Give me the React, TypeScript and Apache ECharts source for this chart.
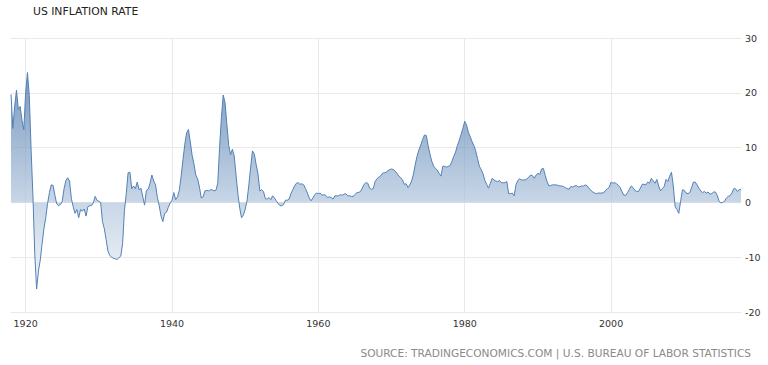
import React, { useEffect, useRef } from "react";
import * as echarts from "echarts";

// Quarterly US CPI inflation (YoY %)
const values1910s = [19.7, 13.5, 17.5, 20.5, 17.0, 17.5, 15.0, 13.3];
const values1920s = [20.0, 23.7, 19.5, 9.5, 1.0, -9.5, -15.8, -12.5, -10.5, -7.5, -4.8, -2.8, -0.2, 1.8, 3.2, 3.1, 1.3, -0.3, -0.6, -0.4, 0.2, 2.5, 4.0, 4.5, 3.9, 0.7, -0.8, -2.0, -1.3, -2.8, -1.3, -1.6, -1.2, -2.5, -0.8, -0.6, -0.6, -0.1, 1.1, 0.4];
const values1930s = [0.2, 0.0, -3.5, -4.8, -6.8, -8.9, -9.7, -10.0, -10.2, -10.3, -10.4, -10.1, -9.8, -7.5, -1.5, 1.6, 5.4, 5.5, 2.5, 3.0, 2.5, 3.7, 2.3, 2.6, 1.1, -0.5, 2.2, 2.4, 3.5, 5.0, 3.9, 3.2, 0.9, -0.6, -2.5, -3.5, -2.0, -1.8, -0.9, -0.1];
const values1940s = [0.4, 1.8, 0.5, 1.0, 2.2, 4.8, 7.8, 10.6, 12.7, 13.3, 11.0, 8.6, 7.0, 5.0, 4.3, 2.8, 0.8, 1.0, 2.1, 2.2, 2.1, 2.3, 2.3, 2.1, 2.2, 3.5, 10.0, 15.5, 19.6, 18.2, 14.2, 10.4, 8.7, 9.7, 8.5, 5.0, 1.6, -1.0, -2.8, -2.3];
const values1950s = [-1.3, 0.3, 3.2, 6.5, 9.4, 8.8, 6.9, 5.2, 2.1, 2.3, 2.0, 0.7, 0.6, 0.9, 0.5, 1.2, 0.8, 0.3, -0.2, -0.6, -0.6, -0.4, 0.4, 0.4, 0.6, 1.6, 2.3, 3.0, 3.5, 3.6, 3.3, 3.4, 3.2, 2.5, 1.7, 0.8, 0.3, 0.8, 1.4, 1.7];
const values1960s = [1.6, 1.7, 1.3, 1.4, 1.3, 0.9, 1.0, 0.9, 0.6, 1.2, 1.2, 1.2, 1.4, 1.3, 1.5, 1.6, 1.2, 1.2, 1.1, 1.1, 1.4, 1.8, 1.8, 2.0, 2.6, 3.3, 3.6, 3.5, 2.6, 2.4, 2.5, 3.8, 4.3, 4.6, 4.8, 5.3, 5.4, 5.5, 5.8, 6.0];
const values1970s = [6.1, 6.0, 5.7, 5.3, 4.8, 4.5, 4.1, 3.3, 3.4, 2.7, 3.2, 3.9, 5.2, 7.0, 8.5, 9.6, 10.5, 11.5, 12.3, 12.2, 10.3, 8.8, 7.5, 6.6, 6.2, 5.9, 5.3, 4.8, 6.6, 6.6, 6.4, 6.6, 6.7, 7.5, 8.4, 9.2, 10.4, 11.3, 12.4, 13.5];
const values1980s = [14.8, 14.1, 12.8, 12.0, 11.1, 10.4, 9.4, 8.0, 6.6, 6.0, 5.2, 4.0, 3.3, 2.6, 3.5, 4.4, 4.1, 3.9, 3.8, 4.0, 3.6, 3.6, 3.6, 3.8, 1.6, 1.6, 1.7, 1.2, 3.2, 4.0, 4.3, 4.1, 4.1, 4.1, 4.3, 4.6, 5.0, 4.9, 4.4, 5.0];
const values1990s = [5.3, 5.1, 6.1, 6.2, 4.9, 3.8, 3.0, 3.1, 3.2, 3.2, 3.2, 3.1, 3.0, 3.0, 2.9, 2.7, 2.5, 2.4, 2.9, 2.8, 3.0, 3.1, 2.8, 2.9, 3.0, 3.0, 3.2, 3.0, 2.5, 2.2, 1.9, 1.7, 1.6, 1.7, 1.7, 1.7, 1.8, 2.2, 2.5, 2.8];
const values2000s = [3.7, 3.5, 3.6, 3.4, 3.1, 2.7, 1.9, 1.3, 1.3, 1.8, 2.4, 3.0, 2.7, 2.2, 2.0, 2.0, 2.6, 3.3, 3.3, 3.2, 3.7, 3.5, 4.4, 3.9, 3.5, 4.2, 3.0, 2.1, 2.5, 2.9, 4.2, 3.8, 4.8, 5.5, 3.0, -0.8, -1.3, -2.0, 0.2, 2.3];
const values2010s = [2.2, 1.7, 1.6, 1.8, 2.7, 3.7, 3.7, 3.2, 2.6, 2.1, 1.8, 2.0, 1.7, 1.9, 1.5, 1.6, 1.9, 1.9, 1.3, 0.2, -0.1, 0.0, 0.2, 0.8, 1.1, 1.2, 1.7, 2.5, 2.5, 2.0, 2.3, 2.4];

const firstYear = 1918;
const xTickLabels = ["1920", "1940", "1960", "1980", "2000"];
const yTickLabels = [-20, -10, 0, 10, 20, 30];

const TITLE = "US INFLATION RATE";
const SOURCE = "SOURCE: TRADINGECONOMICS.COM | U.S. BUREAU OF LABOR STATISTICS";

export default function App() {
  const ref = useRef<HTMLDivElement>(null);

  useEffect(() => {
    if (!ref.current) return;
    const chart = echarts.init(ref.current, null, { renderer: "svg" });

    const values = [
      ...values1910s, ...values1920s, ...values1930s, ...values1940s, ...values1950s,
      ...values1960s, ...values1970s, ...values1980s, ...values1990s, ...values2000s, ...values2010s,
    ];
    const categories = values.map((_, i) => `${firstYear + Math.floor(i / 4)}-Q${(i % 4) + 1}`);
    const isTick = (_idx: number, val: string) =>
      val.endsWith("Q1") && xTickLabels.includes(val.slice(0, 4));

    chart.setOption({
      animation: false,
      backgroundColor: "#ffffff",
      title: [
        {
          text: TITLE,
          left: 33,
          top: 6,
          padding: 0,
          textStyle: { fontFamily: "DejaVu Sans", fontSize: 10.8, fontWeight: "normal", color: "#222222" },
        },
        {
          text: SOURCE,
          right: 17,
          top: 347,
          padding: 0,
          textStyle: { fontFamily: "DejaVu Sans", fontSize: 10.6, fontWeight: "normal", color: "#8a8a8a" },
        },
      ],
      grid: { left: 11, right: 27, top: 38, bottom: 53, containLabel: false },
      xAxis: {
        type: "category",
        data: categories,
        boundaryGap: false,
        axisLine: { show: false },
        axisTick: { show: false },
        axisLabel: {
          interval: isTick,
          formatter: (v: string) => v.slice(0, 4),
          fontFamily: "DejaVu Sans",
          fontSize: 9.5,
          color: "#333333",
          margin: 6,
        },
        splitLine: { show: true, interval: isTick, lineStyle: { color: "#e9e9e9", width: 1 } },
      },
      yAxis: {
        type: "value",
        position: "right",
        min: yTickLabels[0],
        max: yTickLabels[yTickLabels.length - 1],
        interval: 10,
        axisLine: { show: false },
        axisTick: { show: false },
        axisLabel: {
          fontFamily: "DejaVu Sans",
          fontSize: 9.5,
          color: "#333333",
          margin: 4,
        },
        splitLine: { show: true, lineStyle: { color: "#e9e9e9", width: 1 } },
      },
      series: [
        {
          type: "line",
          data: values,
          symbol: "none",
          lineStyle: { color: "#5480b5", width: 1 },
          areaStyle: {
            origin: 0,
            color: new echarts.graphic.LinearGradient(0, 0, 0, 1, [
              { offset: 0, color: "#3f6ea6" },
              { offset: 0.6, color: "#b1c5dd" },
              { offset: 1, color: "#eef2f8" },
            ]),
          },
        },
      ],
    });

    return () => chart.dispose();
  }, []);

  return <div ref={ref} style={{ width: 768, height: 365, position: "absolute", left: 0, top: 0 }} />;
}
